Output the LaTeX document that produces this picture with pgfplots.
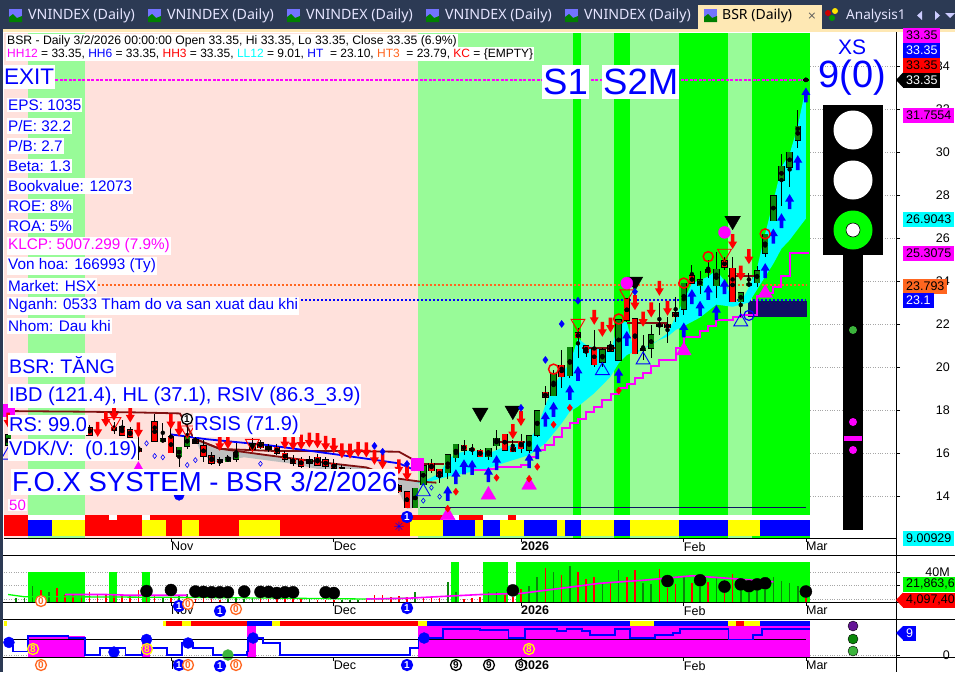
\documentclass[border=0pt]{standalone}
\usepackage{pgfplots}
\usepackage{pgfplotstable}
\usepackage{fontspec}
\pgfplotsset{compat=1.18}
\setmainfont{Liberation Sans}
\newfontfamily\tabfont{Noto Sans}
\newfontfamily\symfont{DejaVu Sans}

\definecolor{magenta}{RGB}{255,0,255}
\definecolor{cyan}{RGB}{0,255,255}
\definecolor{yellow}{RGB}{255,255,0}
\definecolor{Pink}{RGB}{255,225,220}
\definecolor{Pale}{RGB}{152,251,152}
\definecolor{Lime}{RGB}{0,255,0}
\definecolor{Up}{RGB}{10,135,10}
\definecolor{Brown}{RGB}{128,16,16}
\definecolor{Navy}{RGB}{16,16,100}
\definecolor{Org}{RGB}{255,102,32}
\definecolor{TabBar}{RGB}{44,58,84}
\definecolor{Cream}{RGB}{254,232,180}
\definecolor{Purple}{RGB}{100,20,150}
\definecolor{LGreen}{RGB}{60,180,60}

\newcommand\fs[1]{\fontsize{#1}{#1}\selectfont}

% arrows used as plot marks
\pgfdeclareplotmark{uarr}{%
  \pgfpathmoveto{\pgfqpoint{0pt}{7.5pt}}%
  \pgfpathlineto{\pgfqpoint{4.5pt}{0pt}}%
  \pgfpathlineto{\pgfqpoint{1.8pt}{0pt}}%
  \pgfpathlineto{\pgfqpoint{1.8pt}{-7.5pt}}%
  \pgfpathlineto{\pgfqpoint{-1.8pt}{-7.5pt}}%
  \pgfpathlineto{\pgfqpoint{-1.8pt}{0pt}}%
  \pgfpathlineto{\pgfqpoint{-4.5pt}{0pt}}%
  \pgfpathclose\pgfusepathqfill}
\pgfdeclareplotmark{darr}{%
  \pgfpathmoveto{\pgfqpoint{0pt}{-7.5pt}}%
  \pgfpathlineto{\pgfqpoint{4.5pt}{0pt}}%
  \pgfpathlineto{\pgfqpoint{1.8pt}{0pt}}%
  \pgfpathlineto{\pgfqpoint{1.8pt}{7.5pt}}%
  \pgfpathlineto{\pgfqpoint{-1.8pt}{7.5pt}}%
  \pgfpathlineto{\pgfqpoint{-1.8pt}{0pt}}%
  \pgfpathlineto{\pgfqpoint{-4.5pt}{0pt}}%
  \pgfpathclose\pgfusepathqfill}

% candles, x is the bar number
\pgfplotstableread{
i  o     h     l     c
1  16.37 16.90 16.20 16.84
20 16.53 17.38 16.50 16.64
22 15.83 16.30 15.36 16.26
23 16.33 17.46 16.20 16.76
28 15.60 15.90 15.60 15.78
29 15.72 16.45 15.60 16.03
31 16.17 16.70 16.05 16.42
38 15.52 15.85 15.30 15.67
51 13.46 14.36 13.46 14.36
52 14.53 15.40 14.53 15.40
55 15.09 15.91 14.79 15.91
56 15.78 16.40 15.60 16.40
60 15.83 16.22 15.67 16.22
61 16.34 17.07 16.14 16.68
65 16.14 16.79 15.98 16.79
66 16.84 17.95 16.76 17.95
68 18.67 19.86 18.67 19.67
70 19.60 20.91 19.50 20.91
74 20.22 20.90 20.00 20.78
76 20.33 22.19 20.30 22.19
79 20.80 21.49 20.33 20.87
80 20.87 21.95 20.40 21.49
84 22.68 23.89 22.42 23.89
86 23.78 24.47 23.38 24.05
88 23.78 25.36 23.22 24.54
91 23.04 23.43 22.34 23.43
92 23.78 24.36 23.78 23.89
93 23.92 24.71 23.74 24.48
94 25.29 26.17 25.13 26.17
95 26.81 27.97 26.81 27.97
96 28.68 29.89 27.49 29.33
97 29.29 29.98 28.39 29.98
98 30.54 31.95 30.20 31.19
99 33.35 33.35 33.35 33.35
}\upbars
\pgfplotstableread{
i  o     h     l     c
11 17.18 17.30 16.80 16.84
14 17.19 17.46 16.90 17.04
15 17.22 17.53 16.84 16.84
16 17.07 17.20 16.70 16.73
17 16.19 16.76 15.67 16.06
19 17.43 17.80 16.56 16.56
21 16.76 17.50 16.02 16.02
24 16.60 16.80 16.40 16.45
25 16.34 16.60 15.60 15.86
26 15.86 16.06 15.44 15.52
27 15.67 15.83 15.38 15.55
32 16.48 16.60 16.20 16.25
33 16.29 16.40 16.05 16.17
34 16.26 16.40 15.90 15.98
35 15.98 16.10 15.60 15.72
36 15.75 15.90 15.40 15.52
37 15.70 15.80 15.30 15.39
39 15.80 15.95 15.40 15.44
40 15.67 15.80 15.25 15.39
41 15.52 15.70 15.10 15.29
42 15.30 15.45 15.00 15.10
43 15.15 15.30 14.90 15.00
44 15.05 15.20 14.80 14.90
45 14.95 15.10 14.75 14.85
46 14.90 15.00 14.60 14.70
47 14.75 14.85 14.45 14.55
48 14.60 14.70 14.30 14.40
49 14.47 14.55 14.15 14.20
50 14.20 14.20 13.46 13.46
53 15.52 15.72 15.09 15.18
54 15.24 15.24 14.62 14.90
57 16.36 16.60 15.90 16.14
58 16.22 16.42 15.89 16.11
59 16.12 16.17 15.83 15.83
62 16.87 16.87 16.14 16.14
63 16.26 16.60 16.06 16.06
64 16.54 16.87 15.98 16.20
67 18.82 19.12 18.23 18.59
69 20.08 20.79 19.04 19.55
71 21.57 21.80 20.40 21.36
72 20.98 20.98 20.45 20.67
73 20.84 21.72 20.00 20.11
75 20.98 21.20 20.73 20.73
77 23.15 23.20 22.10 22.17
78 22.22 22.30 20.62 20.62
81 21.98 22.96 21.49 21.89
82 21.98 22.34 21.10 21.83
83 22.50 23.27 22.10 22.34
85 24.25 24.74 23.89 23.89
87 24.54 24.98 24.16 24.39
89 24.95 25.13 24.50 24.64
90 24.59 25.10 23.04 23.04
}\dnbars

% volume in millions, same bar numbers
\pgfplotstableread{
i v
2 6
3 5
4 21
6 14
20 7
22 8
23 11
28 4
29 5
30 4
31 5
38 4
42 3
43 3
44 3
51 13
55 27
56 14
60 13
61 14
65 21
66 33
68 40
70 48
74 25
76 43
79 26
80 24
84 35
86 20
88 33
91 15
92 12
93 15
94 16
95 33
96 28
97 26
98 22
}\volup
\pgfplotstableread{
i v
5 16
7 19
8 9
9 9
10 11
11 14
12 11
13 9
14 9
15 9
16 9
17 16
18 11
19 9
21 7
24 4
25 5
26 4
27 3
32 5
33 4
34 5
35 4
36 5
37 6
39 3
40 3
41 3
45 5
46 9
47 10
48 7
49 8
50 7
52 5
53 5
54 6
57 4
58 5
59 7
62 9
63 7
64 17
67 46
69 36
71 40
72 31
73 33
75 25
77 33
78 43
81 44
82 19
83 24
85 26
87 27
89 12
90 38
99 5
}\voldn

% filled block from x=#1 to x=#2, y from #3 to #4
\newcommand\blk[5]{\addplot[fill=#5,draw=none,forget plot] coordinates {(#1,#3)(#1,#4)(#2,#4)(#2,#3)} --cycle;}
\newcommand\seg[3]{\addplot[Brown,line width=1.8pt,forget plot] coordinates {(#1,#3)(#2,#3)};}
\newcommand\candles[2]{%
  \addplot[only marks,mark=none,forget plot,error bars/.cd,y dir=both,y explicit,error mark=none,
    error bar style={black,line width=0.9pt}]
    table[x=i,y expr=(\thisrow{h}+\thisrow{l})/2,y error expr=(\thisrow{h}-\thisrow{l})/2] {#1};
  \addplot[only marks,mark=none,forget plot,error bars/.cd,y dir=both,y explicit,error mark=none,
    error bar style={black,line width=6.4pt}]
    table[x=i,y expr=(\thisrow{o}+\thisrow{c})/2,y error expr=abs(\thisrow{o}-\thisrow{c})/2+0.035] {#1};
  \addplot[only marks,mark=none,forget plot,error bars/.cd,y dir=both,y explicit,error mark=none,
    error bar style={#2,line width=5pt}]
    table[x=i,y expr=(\thisrow{o}+\thisrow{c})/2,y error expr=abs(\thisrow{o}-\thisrow{c})/2] {#1};
}
% white box in blue text, pixel position
\newcommand\lab[5][blue]{\node[anchor=west,fill=white,inner xsep=1pt,inner ysep=#5,text=#1,font=\fs{#4}] at (#2) {#3};}
% value tag on the right
\newcommand\tagv[4]{\node[anchor=west,fill=#2,text=#3,inner xsep=3pt,inner ysep=0pt,minimum height=15pt,font=\fs{12.5}] at (903,#1) {#4};}
% numbered circle
\newcommand\numc[5]{\node[circle,draw=#3,line width=1.3pt,fill=#4,text=#5,inner sep=0pt,minimum size=11pt,font=\fs{10}\bfseries] at (#1) {#2};}
\newcommand\tabi[2]{%
  \fill[blue!55!white] (#1,9) rectangle ++(13,13);
  \fill[green!50!black] (#1,22) -- ++(0,-5) -- ++(4,-3) -- ++(4,4) -- ++(5,-2) -- ++(0,6) -- cycle;
  \node[anchor=west,text=white!90!blue,font=\tabfont\fs{14.2},inner sep=0pt] at (#1+19,16) {#2};}

\pgfplotsset{pane/.style={
  scale only axis,width=892pt,xmin=0.4914,xmax=110.07,
  axis x line*=bottom,axis y line*=right,
  tick align=outside,major tick length=4pt,
  tick style={black,line width=0.6pt},
  axis line style={black,line width=0.9pt},
  xtick={21,41,64,84,99},xticklabels={Nov,Dec,\textbf{2026},Feb,Mar},
  xticklabel style={anchor=north west,xshift=-1pt,yshift=1pt,inner sep=1pt,font=\fs{12.5}},
  yticklabel style={anchor=east,xshift=50pt,inner sep=0pt,font=\fs{12.5}},
  /pgf/number format/assume math mode=true,
  ymajorgrids,
  grid style={gray!70,dotted,line width=0.6pt},
}}

\begin{document}
\begin{tikzpicture}[x=1pt,y=-1pt]
\path[use as bounding box] (0,0) rectangle (955,672);
\fill[white] (0,0) rectangle (955,672);

% ---- price pane
\begin{axis}[pane,at={(4pt,-538pt)},anchor=south west,height=505pt,
  ymin=12.047,ymax=35.53,ytick={14,16,...,34}]
% zones
\blk{0.4914}{51.35}{12.047}{35.53}{Pink}
\blk{3.44}{10.44}{12.047}{35.53}{Pale}
\blk{51.35}{99.5}{12.047}{35.53}{Pale}
\blk{70.39}{71.38}{12.047}{35.53}{Lime}
\blk{75.43}{77.4}{12.047}{35.53}{Lime}
\blk{83.41}{89.43}{12.047}{35.53}{Lime}
\blk{92.38}{99.5}{12.047}{35.53}{Lime}
% state strip
\blk{0.4914}{99.5}{12.88}{13.12}{white}
\blk{0.4914}{3.44}{12.88}{13.12}{red}
\blk{10.44}{13.4}{12.88}{13.12}{red}
\blk{14.37}{17.44}{12.88}{13.12}{red}
\blk{18.43}{54.42}{12.88}{13.12}{red}
\blk{56.4}{59.34}{12.88}{13.12}{red}
\blk{62.4}{63.4}{12.88}{13.12}{red}
\blk{0.4914}{3.44}{12.14}{12.88}{red}
\blk{3.44}{6.39}{12.14}{12.88}{blue}
\blk{6.39}{10.44}{12.14}{12.88}{yellow}
\blk{10.44}{17.44}{12.14}{12.88}{red}
\blk{17.44}{20.39}{12.14}{12.88}{yellow}
\blk{20.39}{22.36}{12.14}{12.88}{red}
\blk{22.36}{24.45}{12.14}{12.88}{yellow}
\blk{24.45}{29.36}{12.14}{12.88}{red}
\blk{29.36}{34.4}{12.14}{12.88}{yellow}
\blk{34.4}{50.37}{12.14}{12.88}{red}
\blk{50.37}{54.42}{12.14}{12.88}{yellow}
\blk{54.42}{58.35}{12.14}{12.88}{blue}
\blk{58.35}{59.34}{12.14}{12.88}{yellow}
\blk{59.34}{61.42}{12.14}{12.88}{blue}
\blk{61.42}{64.37}{12.14}{12.88}{yellow}
\blk{64.37}{68.43}{12.14}{12.88}{blue}
\blk{68.43}{69.41}{12.14}{12.88}{yellow}
\blk{69.41}{71.38}{12.14}{12.88}{blue}
\blk{71.38}{75.43}{12.14}{12.88}{yellow}
\blk{75.43}{77.4}{12.14}{12.88}{blue}
\blk{77.4}{83.41}{12.14}{12.88}{yellow}
\blk{83.41}{89.43}{12.14}{12.88}{blue}
\blk{89.43}{93.37}{12.14}{12.88}{yellow}
\blk{93.37}{99.5}{12.14}{12.88}{blue}
% level lines
\addplot[Navy,line width=0.8pt,forget plot] coordinates {(51.6,13.47)(99,13.47)};
\addplot[magenta,line width=1.3pt,dash pattern=on 3pt off 1.5pt,forget plot] coordinates {(6.8,33.35)(99,33.35)};
\addplot[Org,line width=2pt,dash pattern=on 2pt off 2pt,forget plot] coordinates {(12,23.793)(99,23.793)};
\addplot[blue,line width=2pt,dash pattern=on 2pt off 2pt,forget plot] coordinates {(36.5,23.1)(99,23.1)};
\blk{91.9}{99.1}{22.34}{23.07}{Navy}
% cyan and grey bands
\addplot[fill=gray!50,draw=none,forget plot] coordinates {
 (24,16.65)(27,16.2)(33,15.9)(41,15.5)(45,15.33)(49,14.82)(51.5,14.67)
 (51.5,13.5)(50,13.4)(49,14.2)(46,14.6)(41,15.1)(36,15.5)(30,15.8)(26,15.55)(24.5,16.2)} --cycle;
\addplot[fill=cyan,draw=none,forget plot] coordinates {
 (51,14.6)(52,14.67)(54,15.05)(55,15.67)(56,15.98)(58,16.14)(60,15.98)(62,16.29)(64,16.45)(65,16.6)
 (66,17.15)(67,18.23)(68,19.09)(69,19.7)(70,20.17)(71,21.33)(72,21.02)(74,20.79)(75,20.71)(76,22.03)
 (77,22.1)(78,20.56)(79,20.87)(80,21.0)(82,21.57)(83,22.34)(84,23.1)(85,23.89)(87,24.2)(88,24.5)
 (89,24.0)(90,23.08)(91,23.0)(92,23.7)(93,24.6)(94,26.2)(95,27.7)(96,29.3)(97,29.9)(98,31.2)(99,33.0)
 (99,26.9)(98,26.4)(97,25.9)(96,25.5)(95,24.8)(94,24.2)(93,23.6)(92,23.0)(90,22.8)(88,22.9)(86,22.3)
 (84,21.9)(83,21.72)(82,21.41)(81,21.26)(79,20.87)(77,20.56)(76,20.17)(75,19.55)(73,18.78)(71,18.16)
 (70,17.92)(69,17.38)(67,16.45)(65,15.9)(62,15.55)(60,15.29)(58,15.13)(55,14.9)(52,14.6)} --cycle;
% moving lines
\addplot[Brown,line width=1.8pt,forget plot] coordinates {
 (1,17.95)(10.6,17.92)(16.4,17.89)(22.1,17.84)(23.8,16.68)(27,16.19)(34,16.09)(41,16.09)(49,16.06)(51.2,15.6)};
\addplot[Brown,line width=1.8pt,forget plot] coordinates {
 (23.8,16.68)(27,16.2)(32.8,15.9)(41,15.5)(45,15.33)(48.7,14.82)(51.6,14.67)(53.6,14.62)};
\addplot[blue,line width=1.8pt,forget plot] coordinates {
 (20.9,16.87)(25.4,16.64)(32.8,16.37)(41,15.95)(49,15.52)(51,15.2)};
\seg{51.9}{54.6}{15.49}
\seg{61}{64.5}{16.5}
\seg{71.5}{75.5}{20.9}
\seg{77}{82}{22.06}
\seg{89.4}{93}{24.23}
% stair line
\addplot[const plot,magenta,line width=2pt,forget plot] coordinates {
 (58,15.2)(60,15.25)(61,15.36)(64,15.42)(65,15.83)(66,16.14)(67,16.38)(68,16.76)(69,17.15)(70,17.38)
 (71,17.6)(72,17.92)(73,18.16)(74,18.47)(75,18.75)(76,19.0)(77,19.2)(78,19.47)(79,19.74)(80,20.05)
 (81,20.33)(83,20.9)(84,21.41)(86,21.67)(87,21.9)(88,22.2)(90,22.34)(91,22.4)(93,23.3)(94,23.43)
 (95,23.74)(96,24.23)(97,25.29)(99.4,25.29)};
\candles{\upbars}{Up}
\candles{\dnbars}{red}
% signals
\addplot[only marks,mark=square*,mark size=6pt,magenta,forget plot] coordinates {(51.3,15.5)(1,18)};
\addplot[only marks,mark=uarr,blue,forget plot] coordinates {
 (55,14.12)(56,14.9)(57,15.36)(58,15.33)(60,15.0)(61,15.55)(65,15.64)(66,16.06)(67,17.57)(68,18.03)
 (70,18.82)(71,19.7)(76,19.6)(77,21.33)(84,21.72)(85,23.27)(86,22.73)(87,23.47)(88,22.53)(89,23.74)
 (94,24.48)(95,26.09)(96,26.8)(97,27.69)(98,29.5)(99,32.65)};
\addplot[only marks,mark=darr,red,forget plot] coordinates {
 (1,17.53)(12,17.1)(13,17.57)(14,17.85)(16,17.77)(17,17.07)(21,17.46)(22,17.12)(27,16.45)(28,16.53)
 (35,16.53)(36,16.48)(37,16.5)(38,16.6)(39,16.57)(40,16.45)(41,16.34)(42,16.1)(43,16.09)(44,16.17)
 (45,16.14)(46,15.8)(47,15.6)(49,15.36)(50,15.05)(63,16.99)(64,17.6)(73,22.31)(74,21.75)(75,21.95)
 (78,22.99)(79,22.22)(80,22.65)(81,23.66)(82,22.73)(90,25.83)(91,24.36)(92,25.13)};
\addplot[only marks,mark=triangle*,mark size=8.5pt,magenta,forget plot] coordinates {
 (17,15.2)(55,13.1)(60,14.05)(65,14.51)(84,20.76)(94,23.43)};
\addplot[only marks,mark=triangle,mark size=8pt,blue,mark options={line width=0.9pt},forget plot] coordinates {
 (1,15.9)(52,14.2)(74,19.83)(79,20.33)(91,22.1)};
\addplot[only marks,mark=triangle,mark size=8pt,red,mark options={rotate=180,line width=0.9pt},forget plot] coordinates {
 (14,17.46)(23,17.07)(31,16.45)(71,22.03)(77,23.4)(89,25.29)};
\addplot[only marks,mark=triangle*,mark size=9pt,black,mark options={rotate=180},forget plot] coordinates {
 (59,17.88)(63,17.97)(78,23.97)(90,26.8)};
\addplot[only marks,mark=*,mark size=6pt,magenta,mark options={draw=none},forget plot] coordinates {(77,23.9)(89,26.26)};
\addplot[only marks,mark=o,mark size=5pt,red,mark options={line width=1.5pt},forget plot] coordinates {
 (68,19.9)(76,22.23)(84,23.9)(87,25.13)(94,26.19)};
\addplot[only marks,mark=o,mark size=5pt,blue,mark options={line width=1.2pt},forget plot] coordinates {(92,22.4)};
\addplot[only marks,mark=diamond*,mark size=3.5pt,blue,forget plot] coordinates {
 (46,16.33)(47,16.06)(50,15.49)(64,18.1)(67,20.33)(69,22.0)(71,23.08)(78,23.5)};
\addplot[only marks,mark=diamond*,mark size=3.5pt,red,forget plot] coordinates {
 (55,13.41)(56,14.2)(61,14.85)(65,14.8)(66,15.36)(68,17.32)(70,18.1)(76,18.9)};
\addplot[only marks,mark=diamond,mark size=2.5pt,blue,mark options={line width=0.6pt},forget plot] coordinates {
 (18,16.45)(19,15.86)(20,15.8)(23,15.44)(24,15.67)(32,15.5)(52,13.78)(53,14.39)(54,13.97)};
\addplot[only marks,mark=*,mark size=5pt,blue,forget plot] coordinates {(22,14.03)};
\end{axis}

% ---- volume pane
\begin{axis}[pane,at={(4pt,-602pt)},anchor=south west,height=47pt,
  ymin=0,ymax=62.7,ytick={4.1,21.86,40},yticklabels={,,40M}]
\blk{3.44}{10.44}{0}{40}{Lime}
\blk{13.39}{14.37}{0}{40}{Lime}
\blk{17.44}{18.43}{0}{40}{Lime}
\blk{55.4}{56.4}{0}{53}{Lime}
\blk{59.34}{62.4}{0}{53}{Lime}
\blk{63.4}{99.5}{0}{53}{Lime}
\addplot[ycomb,Up,line width=1.6pt,forget plot] table[x=i,y=v] {\volup};
\addplot[ycomb,red,line width=1.6pt,forget plot] table[x=i,y=v] {\voldn};
\addplot[Lime,line width=1.3pt,forget plot] coordinates {(1,10)(3,7)(8,7)(25,6)(36,5)(45,4)(50,5)};
\addplot[magenta,line width=1.6pt,forget plot] coordinates {(8,10)(13,10)(16,9)(23,9)};
\addplot[magenta,line width=1.6pt,forget plot] coordinates {(45,4)(50,5)(59,10)(64,11.5)(68,17)(73.7,25)(79,29)(85,35)(89,32)(95,27)};
\addplot[only marks,mark=*,mark size=6pt,black,forget plot] coordinates {
 (18,14.6)(21,16)(24,14)(25,13.5)(26,13)(27,13)(28,13)(30,14)(32,13.5)(33,13.5)(34,12)(35,13)(36,13)
 (40,13)(41,12)(63,15.5)(82,28)(86,29)(89,20.5)(91,23.5)(92,21)(93,23.5)(94,25)(99,14)};
\end{axis}

% ---- safety level pane
\begin{axis}[pane,at={(4pt,-657pt)},anchor=south west,height=38pt,
  ymin=-0.68,ymax=12.3,ytick={0},yticklabels={0}]
\blk{3.44}{10.44}{-0.68}{6.6}{magenta}
\blk{17.44}{18.43}{-0.68}{6.6}{magenta}
\blk{30.38}{31.45}{-0.68}{10}{magenta}
\blk{51.35}{99.5}{-0.68}{10}{magenta}
\blk{0.4914}{0.82}{10}{11.7}{yellow}
\blk{20.07}{20.39}{10}{11.7}{yellow}
\blk{20.39}{22.4}{10}{11.7}{red}
\blk{22.4}{23.46}{10}{11.7}{yellow}
\blk{23.46}{30.38}{10}{11.7}{red}
\blk{30.38}{33.42}{10}{11.7}{blue}
\blk{33.42}{34.4}{10}{11.7}{yellow}
\blk{34.4}{51.35}{10}{11.7}{red}
\blk{51.35}{52.46}{10}{11.7}{yellow}
\blk{52.46}{77.4}{10}{11.7}{blue}
\blk{77.4}{80.35}{10}{11.7}{yellow}
\blk{80.35}{89.44}{10}{11.7}{blue}
\blk{89.44}{90.42}{10}{11.7}{yellow}
\blk{90.42}{91.4}{10}{11.7}{red}
\blk{91.4}{93.37}{10}{11.7}{yellow}
\blk{93.37}{99.5}{10}{11.7}{blue}
\addplot[black,line width=1.5pt,forget plot] coordinates {(0.5,5.35)(99,5.35)};
\addplot[const plot,blue,line width=1.7pt,forget plot] coordinates {
 (1,3)(1.6,1.2)(3.44,6.4)(8.4,5.8)(10.44,0.1)(12.3,2.4)(15.4,0.1)(17.44,2.4)(20.5,0.1)(22.4,4)(23.7,2.4)
 (26.2,0.1)(30.3,1.2)(30.5,5.8)(32.3,4)(34.4,0.1)(50.4,2.4)(51.4,5.8)(54.4,9)(59,8.65)(61.4,8.65)(62.45,5.8)
 (64.5,9)(68.4,8.1)(69.6,9)(71.5,8.1)(72.5,6.95)(75.55,9)(77.4,5.8)(80.5,6.95)(82.7,7.5)(83.5,9)
 (89.5,5.35)(92.5,6.95)(93.6,9)(99.5,9)};
\addplot[only marks,mark=*,mark size=5.5pt,blue,forget plot] coordinates {
 (1.1,4.3)(14,1)(18,5.3)(23.1,4.1)(31.1,5.8)(52.1,5.8)};
\addplot[only marks,mark=*,mark size=5.5pt,LGreen,forget plot] coordinates {(28,0)};
\end{axis}

% ---- frame
\draw[black,line width=0.9pt] (4,538) -- (896,538) (0,555) -- (955,555) (0,602) -- (955,602)
  (0,619) -- (955,619) (0,657) -- (955,657);
\draw[black,line width=0.9pt] (896,32) -- (896,672);
\fill[TabBar] (0,0) rectangle (955,30);
\fill[TabBar] (0,30) rectangle (2.5,672);
\fill[Cream] (2.5,29) rectangle (955,32);
\tabi{9}{VNINDEX (Daily)}
\tabi{148}{VNINDEX (Daily)}
\tabi{287}{VNINDEX (Daily)}
\tabi{426}{VNINDEX (Daily)}
\tabi{565}{VNINDEX (Daily)}
\fill[Cream] (698,5) rectangle (822,32);
\fill[blue!55!white] (704,9) rectangle ++(13,13);
\fill[green!50!black] (704,22) -- ++(0,-5) -- ++(4,-3) -- ++(4,4) -- ++(5,-2) -- ++(0,6) -- cycle;
\node[anchor=west,inner sep=0pt,font=\tabfont\fs{14}\bfseries] at (722,16) {BSR (Daily)};
\node[text=gray!70!black,font=\symfont\fs{11}] at (812,16) {×};
\fill[red!80!black] (828,13) circle (3);
\fill[yellow!80!orange] (835,11) circle (3);
\fill[green!60!black] (832,18) circle (3);
\node[anchor=west,inner sep=0pt,text=white!90!blue,font=\tabfont\fs{13.6}] at (846,16) {Analysis1};
\fill[white!80!blue] (922,11) -- (922,20) -- (917,15.5) -- cycle (935,11) -- (935,20) -- (940,15.5) -- cycle;
\fill[white!80!blue] (945,13) -- (955,13) -- (950,18) -- cycle;

% ---- text on the price pane
\node[anchor=west,fill=white,inner sep=1pt,font=\fs{12.2}] at (6,41) {BSR - Daily 3/2/2026 00:00:00 Open 33.35, Hi 33.35, Lo 33.35, Close 33.35 (6.9\%)};
\node[anchor=west,fill=white,inner sep=1pt,font=\fs{12}] at (6,54) {\textcolor{magenta}{HH12} = 33.35, \textcolor{blue}{HH6} = 33.35, \textcolor{red}{HH3} = 33.35, \textcolor{cyan}{LL12} = 9.01, \textcolor{blue}{HT}\ \ = 23.10, \textcolor{Org}{HT3}\ \ = 23.79, \textcolor{red}{KC} = \{EMPTY\}};
\lab{3,77}{EXIT}{22.5}{4pt}
\lab{7,105}{EPS: 1035}{15.3}{2pt}
\lab{7,126}{P/E: 32.2}{15.3}{2pt}
\lab{7,146}{P/B: 2.7}{15.3}{2pt}
\lab{7,166}{Beta: 1.3}{15.3}{2pt}
\lab{7,186}{Bookvalue: 12073}{15.3}{2pt}
\lab{7,206}{ROE: 8\%}{15.3}{2pt}
\lab{7,226}{ROA: 5\%}{15.3}{2pt}
\lab[magenta]{7,246}{KLCP: 5007.299 (7.9\%)}{15.3}{2pt}
\lab{7,266}{Von hoa: 166993 (Ty)}{15.3}{2pt}
\lab{7,286}{Market: HSX}{15.3}{2pt}
\lab{7,306}{Nganh: 0533 Tham do va san xuat dau khi}{15.3}{2pt}
\lab{7,326}{Nhom: Dau khi}{15.3}{2pt}
\lab{8,365}{BSR: TĂNG}{19.6}{3pt}
\lab{8,396}{IBD (121.4), HL (37.1), RSIV (86.3\_3.9)}{20}{3pt}
\lab{8,425}{RS: 99.0}{20}{3pt}
\lab{193,425}{RSIS (71.9)}{20}{3pt}
\lab{8,450}{VDK/V:\ \ (0.19)}{20}{1.5pt}
\lab{11,482}{F.O.X SYSTEM - BSR 3/2/2026}{27.5}{3pt}
\lab[magenta]{8,505}{50}{15}{1pt}
\lab{542,82}{S1}{36.5}{4pt}
\lab{602,82}{S2M}{36.5}{4pt}
\numc{187,419}{1}{black}{white}{black}
\numc{407,517}{1}{blue}{blue}{white}
\node[text=blue,font=\symfont\fs{13}] at (399,527) {✳};

% ---- event counters under the panes
\numc{41,601}{0}{Org}{white}{Org}
\numc{179,606}{1}{blue}{blue}{white}
\numc{188,604}{0}{Org}{white}{Org}
\numc{220,611}{1}{blue}{blue}{white}
\numc{236,609}{0}{Org}{white}{Org}
\numc{407,608}{1}{blue}{blue}{white}
\numc{33,649}{8}{yellow}{magenta}{yellow}
\numc{147,649}{8}{yellow}{magenta}{yellow}
\numc{529,649}{8}{yellow}{magenta}{yellow}
\numc{41,665}{0}{Org}{white}{Org}
\numc{179,665}{1}{blue}{blue}{white}
\numc{188,665}{0}{Org}{white}{Org}
\numc{220,666}{1}{blue}{blue}{white}
\numc{236,665}{0}{Org}{white}{Org}
\numc{407,665}{1}{blue}{blue}{white}
\numc{456,665}{9}{black}{white}{black}
\numc{489,665}{9}{black}{white}{black}
\numc{521,665}{9}{black}{white}{black}

% ---- right side panel
\node[text=blue,font=\fs{21}] at (852,47) {XS};
\node[text=blue,font=\fs{38}] at (852,78) {9(0)};
\fill[black] (823,105) rectangle (883,255);
\fill[black] (843,255) rectangle (863,530);
\fill[white] (853,130) circle (19.5);
\fill[white] (853,180) circle (19.5);
\fill[Lime] (853,230) circle (19.5);
\draw[black,fill=white,line width=0.6pt] (853,230) circle (7);
\fill[LGreen] (853,330) circle (4);
\fill[magenta] (853,422) circle (4);
\fill[magenta] (853,450) circle (4);
\fill[magenta] (844,436) rectangle (862,441);
\draw[black,fill=Purple] (853,626) circle (5);
\draw[black,fill=Up] (853,639) circle (5);
\draw[black,fill=LGreen] (853,651) circle (5);

% ---- value tags
\fill[black] (896,80) -- (903,72.5) -- (903,87.5) -- cycle;
\fill[red] (896,600) -- (903,592.5) -- (903,607.5) -- cycle;
\fill[blue] (896,633) -- (903,626) -- (903,640) -- cycle;
\tagv{35}{magenta}{black}{33.35}
\tagv{50}{blue}{white}{33.35}
\tagv{65}{red}{black}{33.35}
\tagv{80}{black}{white}{33.35}
\tagv{115}{magenta}{black}{31.7554}
\tagv{219}{cyan}{black}{26.9043}
\tagv{253}{magenta}{black}{25.3075}
\tagv{286}{Org}{black}{23.793}
\tagv{300}{blue}{white}{23.1}
\tagv{538}{cyan}{black}{9.00929}
\tagv{584}{Lime}{black}{21,863,672}
\tagv{600}{red}{black}{4,097,400}
\tagv{633}{blue}{white}{9}
\end{tikzpicture}
\end{document}
